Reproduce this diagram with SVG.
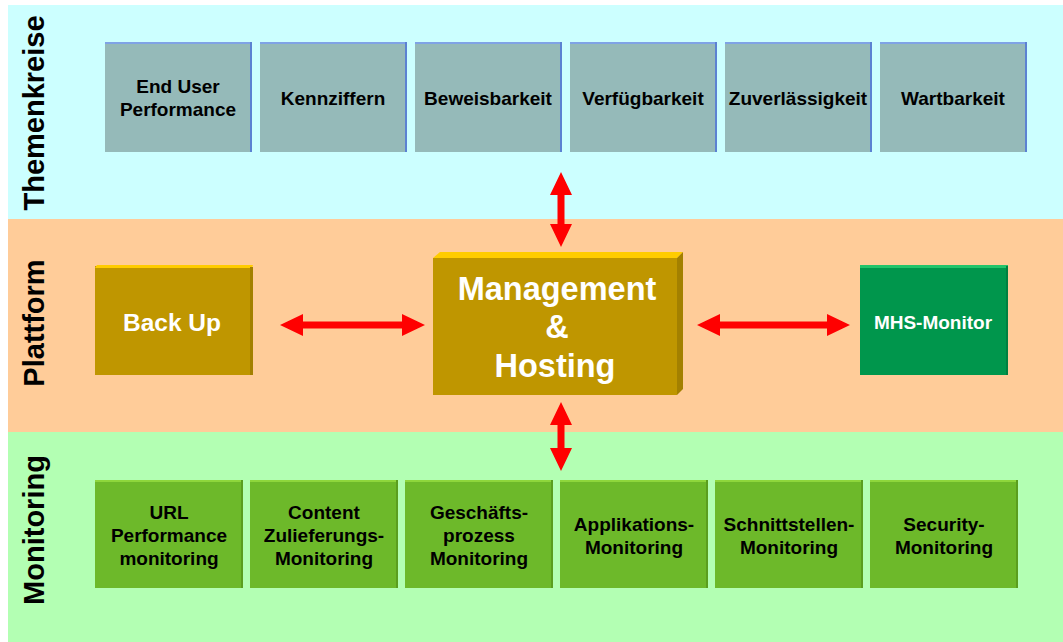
<svg xmlns="http://www.w3.org/2000/svg" width="1063" height="642" viewBox="0 0 1063 642">
<defs>
<style>
text{font-family:"Liberation Sans",Arial,sans-serif;font-weight:bold;text-anchor:middle}
.lbl{font-size:19px;fill:#000}
.side{font-size:29px;fill:#000}
.tk .f{fill:#95BAB9}
.tk .t{fill:#7FA3E6}
.tk .s{fill:#5B82D2}
.mo .f{fill:#6DB92A}
.mo .t{fill:#8ED63C}
.mo .s{fill:#5A9E1E}
.gold .f{fill:#BF9600}
.gold .t{fill:#FFCC00}
.gold .s{fill:#A38000}
.wt{fill:#fff}
.arr{fill:#FF0000}
</style>
</defs>
<rect x="8" y="5" width="1055" height="214" fill="#CCFFFF"/>
<rect x="8" y="219" width="1055" height="213" fill="#FFCC99"/>
<rect x="8" y="432" width="1055" height="210" fill="#B3FFB3"/>
<text class="side" transform="translate(44,113) rotate(-90)">Themenkreise</text>
<text class="side" transform="translate(44,323) rotate(-90)">Plattform</text>
<text class="side" transform="translate(44,530) rotate(-90)">Monitoring</text>

<g id="tk1" class="tk"><rect class="f" x="105" y="42" width="147" height="110"/><rect class="t" x="105" y="42" width="147" height="2"/><rect class="s" x="250" y="42" width="2" height="110"/><text class="lbl" x="178" y="93">End User</text><text class="lbl" x="178" y="116">Performance</text></g>
<g id="tk2" class="tk"><rect class="f" x="260" y="42" width="147" height="110"/><rect class="t" x="260" y="42" width="147" height="2"/><rect class="s" x="405" y="42" width="2" height="110"/><text class="lbl" x="333" y="105">Kennziffern</text></g>
<g id="tk3" class="tk"><rect class="f" x="415" y="42" width="147" height="110"/><rect class="t" x="415" y="42" width="147" height="2"/><rect class="s" x="560" y="42" width="2" height="110"/><text class="lbl" x="488" y="105">Beweisbarkeit</text></g>
<g id="tk4" class="tk"><rect class="f" x="570" y="42" width="147" height="110"/><rect class="t" x="570" y="42" width="147" height="2"/><rect class="s" x="715" y="42" width="2" height="110"/><text class="lbl" x="643" y="105">Verfügbarkeit</text></g>
<g id="tk5" class="tk"><rect class="f" x="725" y="42" width="147" height="110"/><rect class="t" x="725" y="42" width="147" height="2"/><rect class="s" x="870" y="42" width="2" height="110"/><text class="lbl" x="798" y="105">Zuverlässigkeit</text></g>
<g id="tk6" class="tk"><rect class="f" x="880" y="42" width="147" height="110"/><rect class="t" x="880" y="42" width="147" height="2"/><rect class="s" x="1025" y="42" width="2" height="110"/><text class="lbl" x="953" y="105">Wartbarkeit</text></g>

<g id="backup" class="gold"><rect class="f" x="95" y="266" width="157" height="109"/><polygon class="t" points="95,268 97,265 253,265 252,268"/><rect class="s" x="250" y="267" width="3" height="108"/><text class="wt" x="172" y="331" font-size="24.5">Back Up</text></g>
<g id="mgmt" class="gold"><polygon class="t" points="433,258 440,252 683,252 677,258"/><polygon class="s" points="677,258 683,252 683,389 677,395"/><rect class="f" x="433" y="258" width="244" height="137"/><text class="wt" x="557" y="300" font-size="32.5">Management</text><text class="wt" x="557" y="338" font-size="32.5">&amp;</text><text class="wt" x="555" y="377" font-size="32.5">Hosting</text></g>
<g id="mhs"><rect x="860" y="266" width="148" height="109" fill="#00964C"/><rect x="860" y="265" width="148" height="3" fill="#22C46A"/><rect x="1006" y="266" width="2" height="109" fill="#008040"/><text class="wt" x="933" y="329" font-size="19">MHS-Monitor</text></g>

<g id="mo1" class="mo"><rect class="f" x="95" y="480" width="148" height="108"/><rect class="t" x="95" y="480" width="148" height="2"/><rect class="s" x="241" y="480" width="2" height="108"/><text class="lbl" x="169" y="519">URL</text><text class="lbl" x="169" y="542">Performance</text><text class="lbl" x="169" y="565">monitoring</text></g>
<g id="mo2" class="mo"><rect class="f" x="250" y="480" width="148" height="108"/><rect class="t" x="250" y="480" width="148" height="2"/><rect class="s" x="396" y="480" width="2" height="108"/><text class="lbl" x="324" y="519">Content</text><text class="lbl" x="324" y="542">Zulieferungs-</text><text class="lbl" x="324" y="565">Monitoring</text></g>
<g id="mo3" class="mo"><rect class="f" x="405" y="480" width="148" height="108"/><rect class="t" x="405" y="480" width="148" height="2"/><rect class="s" x="551" y="480" width="2" height="108"/><text class="lbl" x="479" y="519">Geschäfts-</text><text class="lbl" x="479" y="542">prozess</text><text class="lbl" x="479" y="565">Monitoring</text></g>
<g id="mo4" class="mo"><rect class="f" x="560" y="480" width="148" height="108"/><rect class="t" x="560" y="480" width="148" height="2"/><rect class="s" x="706" y="480" width="2" height="108"/><text class="lbl" x="634" y="531">Applikations-</text><text class="lbl" x="634" y="554">Monitoring</text></g>
<g id="mo5" class="mo"><rect class="f" x="715" y="480" width="148" height="108"/><rect class="t" x="715" y="480" width="148" height="2"/><rect class="s" x="861" y="480" width="2" height="108"/><text class="lbl" x="789" y="531">Schnittstellen-</text><text class="lbl" x="789" y="554">Monitoring</text></g>
<g id="mo6" class="mo"><rect class="f" x="870" y="480" width="148" height="108"/><rect class="t" x="870" y="480" width="148" height="2"/><rect class="s" x="1016" y="480" width="2" height="108"/><text class="lbl" x="944" y="531">Security-</text><text class="lbl" x="944" y="554">Monitoring</text></g>

<g id="connectors" class="arr">
<polygon points="561,172 572,195 564.5,195 564.5,224 572,224 561,247 550,224 557.5,224 557.5,195 550,195"/>
<polygon points="561,402 572,425 564.5,425 564.5,448 572,448 561,471 550,448 557.5,448 557.5,425 550,425"/>
<polygon points="280,325 303,314 303,321.5 402,321.5 402,314 425,325 402,336 402,328.5 303,328.5 303,336"/>
<polygon points="697,325 720,314 720,321.5 827,321.5 827,314 850,325 827,336 827,328.5 720,328.5 720,336"/>
</g>
</svg>
